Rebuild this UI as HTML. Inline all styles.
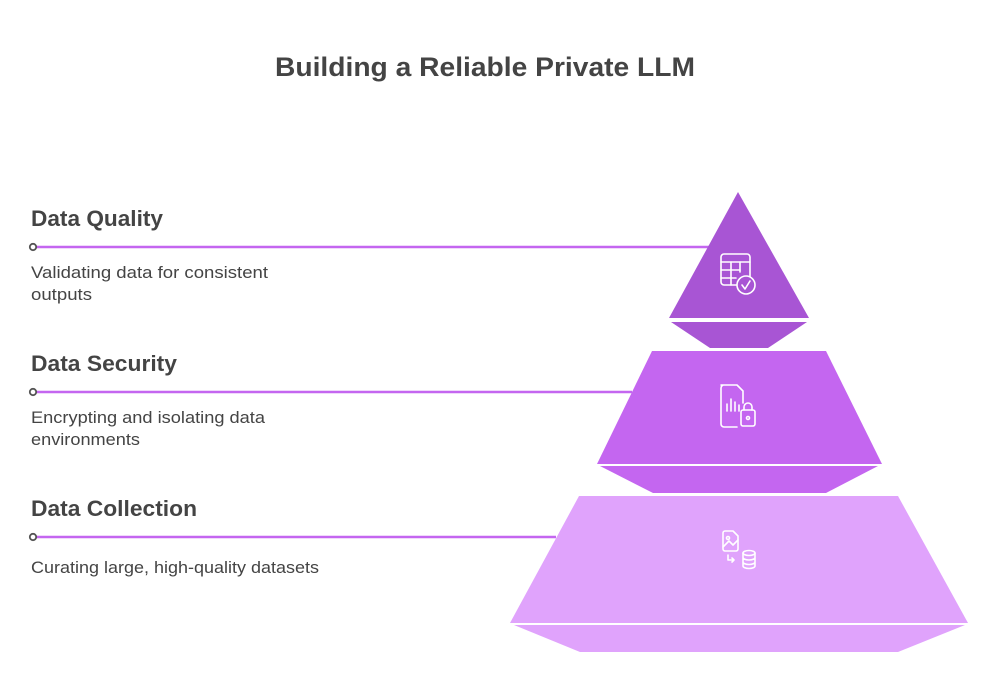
<!DOCTYPE html>
<html><head><meta charset="utf-8"><style>
html,body{margin:0;padding:0;background:#fff;width:1000px;height:700px;overflow:hidden}
svg{display:block}
text{font-family:"Liberation Sans",sans-serif}
</style></head><body>
<svg width="1000" height="700" viewBox="0 0 1000 700">
<text x="485" y="76" text-anchor="middle" font-size="27" font-weight="bold" fill="#444" textLength="420" lengthAdjust="spacingAndGlyphs">Building a Reliable Private LLM</text>

<g stroke="#c466f0" stroke-width="2.5">
<line x1="36" y1="247" x2="712" y2="247"/>
<line x1="36" y1="392" x2="632" y2="392"/>
<line x1="36" y1="537" x2="556" y2="537"/>
</g>
<g fill="#fff" stroke="#555" stroke-width="1.8">
<circle cx="33" cy="247" r="3.2"/>
<circle cx="33" cy="392" r="3.2"/>
<circle cx="33" cy="537" r="3.2"/>
</g>

<polygon points="738,192 809,318 669,318" fill="#a855d4"/>
<polygon points="671,322 807,322 768,348 710,348" fill="#a855d4"/>
<polygon points="652,351 826,351 882,464 597,464" fill="#c466f0"/>
<polygon points="600,466 878,466 826,493 653,493" fill="#c466f0"/>
<polygon points="579,496 898,496 968,623 510,623" fill="#e0a3fc"/>
<polygon points="514,625 965,625 898,652 580,652" fill="#e0a3fc"/>

<g fill="none" stroke="#fff" stroke-width="1.6" stroke-linecap="round" stroke-linejoin="round">
<rect x="721" y="254" width="29" height="31" rx="3"/>
<line x1="721" y1="262" x2="750" y2="262"/><line x1="721" y1="270" x2="740" y2="270"/><line x1="721" y1="278" x2="736" y2="278"/>
<line x1="731" y1="262" x2="731" y2="285"/><line x1="740" y1="262" x2="740" y2="272"/>
<circle cx="746" cy="285" r="9" fill="#a855d4"/>
<polyline points="742,285 745,289 750,281"/>
<path d="M721 385 h16 l6 6 v12 M737 427 h-13 a3 3 0 0 1 -3 -3 v-36 a3 3 0 0 1 3 -3"/>
<line x1="727" y1="411" x2="727" y2="404"/><line x1="731" y1="411" x2="731" y2="399"/><line x1="735" y1="411" x2="735" y2="402"/><line x1="739" y1="411" x2="739" y2="405"/>
<rect x="741" y="410" width="14" height="16" rx="2"/>
<path d="M744 410 v-3 a4 4 0 0 1 8 0 v3"/>
<circle cx="748" cy="418" r="1.5"/>
<path d="M725 531 h8 l5 5 v13 a2 2 0 0 1 -2 2 h-11 a2 2 0 0 1 -2 -2 v-16 a2 2 0 0 1 2 -2 z"/>
<circle cx="728" cy="538" r="1.5"/>
<polyline points="723,547 729,541 733,545 738,540"/>
<path d="M728 555 v5 h6 M732 558 l2 2 -2 2"/>
<ellipse cx="749" cy="553" rx="6" ry="2.5"/>
<path d="M743 553 v13 a6 2.5 0 0 0 12 0 v-13 M743 557.5 a6 2.5 0 0 0 12 0 M743 562 a6 2.5 0 0 0 12 0"/>
</g>

<g fill="#444" font-size="22" font-weight="bold">
<text x="31" y="226" textLength="132" lengthAdjust="spacingAndGlyphs">Data Quality</text>
<text x="31" y="371" textLength="146" lengthAdjust="spacingAndGlyphs">Data Security</text>
<text x="31" y="516" textLength="166" lengthAdjust="spacingAndGlyphs">Data Collection</text>
</g>
<g fill="#444" font-size="17">
<text x="31" y="278" textLength="237" lengthAdjust="spacingAndGlyphs">Validating data for consistent</text>
<text x="31" y="300" textLength="61" lengthAdjust="spacingAndGlyphs">outputs</text>
<text x="31" y="423" textLength="234" lengthAdjust="spacingAndGlyphs">Encrypting and isolating data</text>
<text x="31" y="445" textLength="109" lengthAdjust="spacingAndGlyphs">environments</text>
<text x="31" y="573" textLength="288" lengthAdjust="spacingAndGlyphs">Curating large, high-quality datasets</text>
</g>
</svg>
</body></html>
